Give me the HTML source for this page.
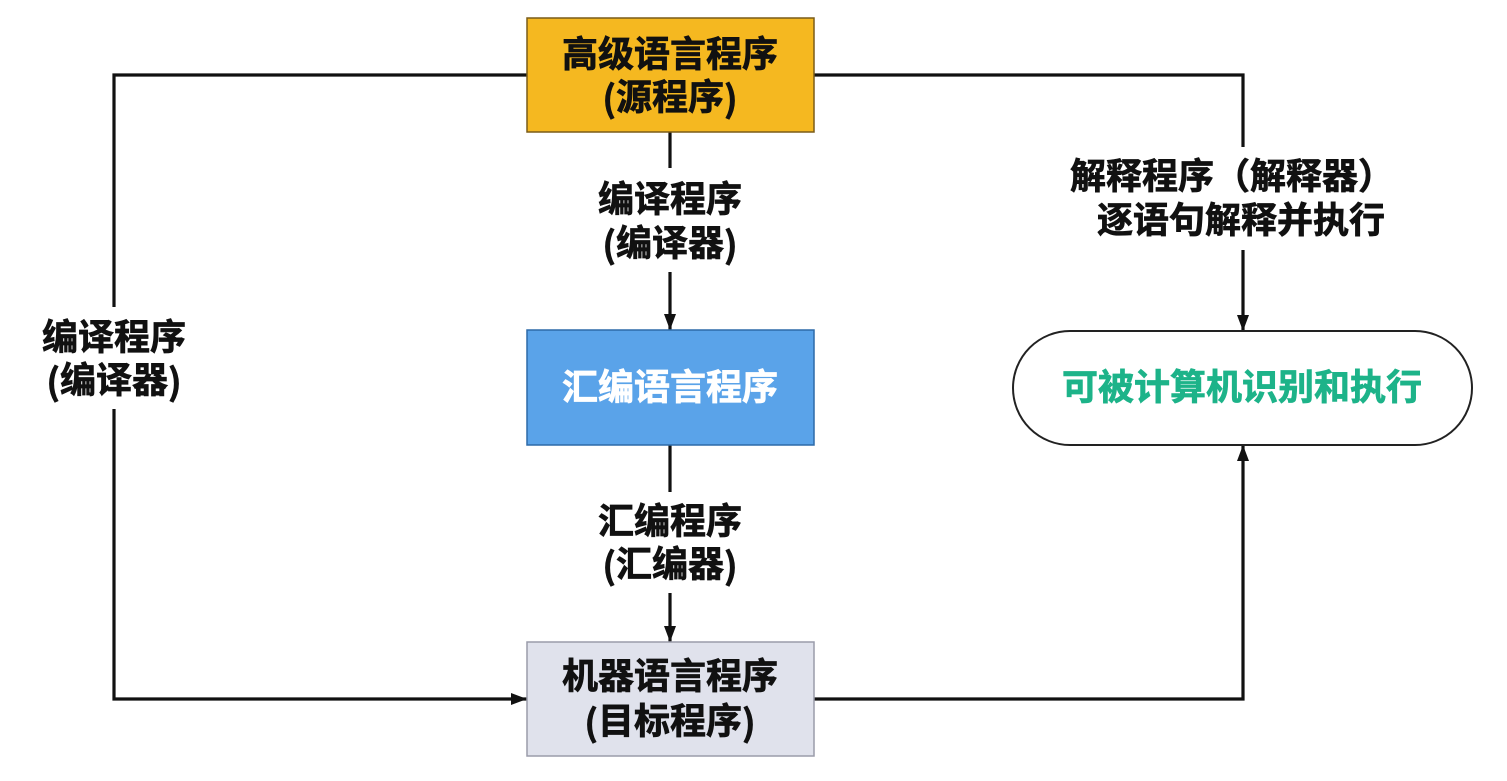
<!DOCTYPE html>
<html>
<head>
<meta charset="utf-8">
<style>
  html,body{margin:0;padding:0;background:#fff;}
  svg{display:block;}
  text{font-family:"Liberation Sans","Noto Sans CJK SC","WenQuanYi Zen Hei",sans-serif;font-weight:700;font-size:36px;text-anchor:middle;dominant-baseline:central;stroke-width:0.7px;}
  .p{font-family:"Noto Sans CJK SC","WenQuanYi Zen Hei",sans-serif;}
  .k{fill:#111;stroke:#111;}
  .w{fill:#fff;stroke:#fff;}
  .g{fill:#1DB389;stroke:#1DB389;}
</style>
</head>
<body>
<svg width="1507" height="781" viewBox="0 0 1507 781" xmlns="http://www.w3.org/2000/svg">
  <rect width="1507" height="781" fill="#ffffff"/>
  <defs>
    <marker id="ah" viewBox="0 0 16 12" refX="16" refY="6" markerWidth="16" markerHeight="12" markerUnits="userSpaceOnUse" orient="auto">
      <path d="M0,0 L16,6 L0,12 z" fill="#111"/>
    </marker>
  </defs>

  <g fill="none" stroke="#111" stroke-width="3.2">
    <polyline points="527,75 114,75 114,307"/>
    <polyline points="114,409 114,699 527,699" marker-end="url(#ah)"/>
    <line x1="670" y1="132" x2="670" y2="168"/>
    <line x1="670" y1="272" x2="670" y2="330" marker-end="url(#ah)"/>
    <line x1="670" y1="445" x2="670" y2="492"/>
    <line x1="670" y1="593" x2="670" y2="642" marker-end="url(#ah)"/>
    <polyline points="814,75 1243,75 1243,147"/>
    <line x1="1243" y1="250" x2="1243" y2="331" marker-end="url(#ah)"/>
    <polyline points="814,699 1243,699 1243,445" marker-end="url(#ah)"/>
  </g>

  <rect x="527" y="18" width="287" height="114" fill="#F5B820" stroke="#7a5c18" stroke-width="1.5"/>
  <rect x="527" y="330" width="287" height="115" fill="#5AA3E9" stroke="#2d6aa8" stroke-width="1.5"/>
  <rect x="527" y="642" width="287" height="114" fill="#E0E2EC" stroke="#9a9caa" stroke-width="1.5"/>
  <rect x="1013" y="331" width="459" height="114" rx="57" ry="57" fill="#ffffff" stroke="#222" stroke-width="2"/>

  <text x="670" y="54" class="k">高级语言程序</text>
  <text x="670" y="97" class="k"><tspan class="p">(</tspan>源程序<tspan class="p">)</tspan></text>
  <text x="670" y="387" class="w">汇编语言程序</text>
  <text x="670" y="676" class="k">机器语言程序</text>
  <text x="670" y="721" class="k"><tspan class="p">(</tspan>目标程序<tspan class="p">)</tspan></text>
  <text x="1242" y="387" class="g">可被计算机识别和执行</text>

  <text x="114" y="337" class="k">编译程序</text>
  <text x="114" y="380" class="k"><tspan class="p">(</tspan>编译器<tspan class="p">)</tspan></text>
  <text x="670" y="199" class="k">编译程序</text>
  <text x="670" y="243" class="k"><tspan class="p">(</tspan>编译器<tspan class="p">)</tspan></text>
  <text x="670" y="521" class="k">汇编程序</text>
  <text x="670" y="564" class="k"><tspan class="p">(</tspan>汇编器<tspan class="p">)</tspan></text>
  <text x="1232" y="176" class="k">解释程序（解释器）</text>
  <text x="1241" y="220" class="k">逐语句解释并执行</text>
</svg>
</body>
</html>
